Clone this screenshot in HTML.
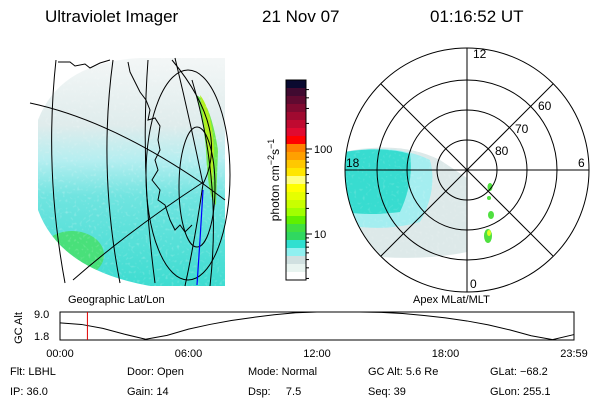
<!DOCTYPE html>
<html><head><meta charset="utf-8"><style>
body{margin:0;background:#fff;}
svg{display:block;font-family:"Liberation Sans",sans-serif;}
</style></head><body>
<svg width="600" height="400" viewBox="0 0 600 400">
<defs>
<clipPath id="mapclip"><path d="M38,120 Q60,62 140,58 L225,58 L225,286 L150,286 Q60,270 38,210 Z"/></clipPath>
<clipPath id="polclip"><circle cx="467" cy="170" r="122"/></clipPath>
<linearGradient id="mapgrad" x1="0" y1="0" x2="0" y2="1">
<stop offset="0" stop-color="#f4f7f7"/><stop offset="0.3" stop-color="#dfecec"/><stop offset="0.45" stop-color="#b4eef0"/><stop offset="0.6" stop-color="#70e4e0"/><stop offset="1" stop-color="#3cdcd0"/></linearGradient>
<filter id="speck"><feTurbulence type="fractalNoise" baseFrequency="0.35" numOctaves="1" seed="3"/><feColorMatrix values="0 0 0 0 1 0 0 0 0 1 0 0 0 0 1 0 0 0 1.6 -0.9"/></filter>
</defs>

<g font-size="17" fill="#000">
<text x="45" y="22">Ultraviolet Imager</text>
<text x="262" y="22">21 Nov 07</text>
<text x="430" y="22">01:16:52 UT</text>
</g>

<g>
<g clip-path="url(#mapclip)">
<rect x="30" y="55" width="200" height="235" fill="url(#mapgrad)"/>
<ellipse cx="72" cy="255" rx="32" ry="24" fill="#48e070" opacity="0.9"/>
<path d="M196,95 Q210,100 218,150 L216,205 Q208,200 206,150 Q202,110 196,95 Z" fill="#70e850"/>
<path d="M200,95 Q212,110 214,150 L212,190 Q208,150 200,95 Z" fill="#b0f020"/>
<rect x="30" y="55" width="200" height="235" filter="url(#speck)" opacity="0.55"/>
</g>
<g fill="none" stroke="#000" stroke-width="1">
<path d="M56,60 Q44,170 65,283"/>
<path d="M113,60 Q98,170 120,283"/>
<path d="M148,60 Q140,170 155,283"/>
<path d="M175,58 Q190,120 203,184 Q195,240 185,286"/>
<path d="M30,103 Q110,120 202,183 L225,200"/>
<path d="M202,183 Q130,230 73,280"/>
<ellipse cx="197" cy="187" rx="18" ry="60"/>
<ellipse cx="188" cy="175" rx="42" ry="105"/>
<path d="M192,80 Q222,180 210,286"/>
<path d="M172,60 Q230,130 203,184"/>
</g>
<path d="M58,62 L70,62 L75,66 L85,64 L90,68 L100,63 L110,60 M128,62 L130,72 L134,80 L140,92 L146,100 L150,110 L148,120 L155,118 L160,126 L158,140 L160,150 L155,160 L158,170 L152,180 L160,190 L158,200 L165,205 L170,220 L175,230 L180,225 L185,232 L192,225" fill="none" stroke="#000" stroke-width="1"/>
<path d="M203,190 L200,240 L197,285" stroke="#0000ff" stroke-width="1.2" fill="none"/>
<text x="68" y="303" font-size="11">Geographic Lat/Lon</text>
</g>

<g id="cbar"></g>

<g>
<g clip-path="url(#polclip)">
<path d="M344,152 Q400,140 440,160 L467,178 L467,252 Q420,262 360,255 L344,245 Z" fill="#dde9e9"/>
<path d="M344,152 Q395,143 430,160 Q438,190 420,222 Q385,232 344,225 Z" fill="#a4eef0"/>
<path d="M344,152 Q385,146 410,154 Q414,182 400,212 Q370,216 344,212 Z" fill="#38dcd0"/>
<path d="M344,150 L470,150 L470,255 L344,255 Z" filter="url(#speck)" opacity="0.4"/>
<g fill="#50e040"><ellipse cx="490" cy="187" rx="2.5" ry="4"/><circle cx="489" cy="198" r="2"/><ellipse cx="491" cy="215" rx="3" ry="4"/><ellipse cx="488" cy="236" rx="4" ry="7"/></g>
<ellipse cx="489" cy="233" rx="2" ry="3" fill="#e0ff20"/>
</g>
<g fill="none" stroke="#000">
<circle cx="467" cy="170" r="30"/><circle cx="467" cy="170" r="60"/><circle cx="467" cy="170" r="90"/><circle cx="467" cy="170" r="122"/>
<line x1="467" y1="48" x2="467" y2="292"/><line x1="345" y1="170" x2="589" y2="170"/>
<line x1="381" y1="84" x2="553" y2="256"/><line x1="553" y1="84" x2="381" y2="256"/>
</g>
<g font-size="12">
<text x="473" y="58">12</text><text x="578" y="167">6</text><text x="470" y="288">0</text><text x="346" y="167">18</text>
<text x="495" y="155">80</text><text x="515" y="133">70</text><text x="538" y="110">60</text>
</g>
<text x="413" y="303" font-size="11">Apex MLat/MLT</text>
</g>

<g id="alt">
<text transform="translate(22,328) rotate(-90)" font-size="11" text-anchor="middle">GC Alt</text>
<text x="34" y="318" font-size="11">9.0</text>
<text x="34" y="340" font-size="11">1.8</text>
</g>

<g font-size="11">
<text x="10" y="375">Flt: LBHL</text><text x="127" y="375">Door: Open</text><text x="248" y="375">Mode: Normal</text><text x="368" y="375">GC Alt: 5.6 Re</text><text x="490" y="375">GLat: −68.2</text>
<text x="10" y="395">IP: 36.0</text><text x="127" y="395">Gain: 14</text><text x="248" y="395">Dsp:&#160;&#160;&#160;&#160;&#160;7.5</text><text x="368" y="395">Seq: 39</text><text x="490" y="395">GLon: 255.1</text>
</g>
</svg>
<script>
const cbColors=["#0a0a30","#400a30","#600a30","#800a30","#a00a30","#c00a30","#e00a30","#ff0000","#ff8000","#ffa000","#ffc800","#ffe600","#ffff80","#ffff00","#e6ff00","#c8ff00","#a0ff00","#60f000","#40e040","#30d860","#30e0d0","#90f0f0","#d0e0e0","#e8f4f0","#ffffff"];
const cbTickValues=[10,100];
const altHours=[0,1,2,3,4,5,6,7,8,9,10,11,12,13,14,15,16,17,18,19,20,21,22,23,24];
const altValues=[6.2,5.8,4.8,3.3,2.0,3.0,4.6,5.8,6.8,7.6,8.3,8.8,9.0,9.1,9.1,8.9,8.6,8.1,7.5,6.7,5.7,4.4,2.9,1.9,3.2];
const timeTickLabels=["00:00","06:00","12:00","18:00","23:59"];
const timeTickHours=[0,6,12,18,24];
const currentHour=1.28;
const NS="http://www.w3.org/2000/svg";
function mk(t,a,p){const e=document.createElementNS(NS,t);for(const k in a)e.setAttribute(k,a[k]);p.appendChild(e);return e;}
const cb=document.getElementById('cbar');
const cbX=286,cbY=80,cbW=20,cbH=200,bh=cbH/cbColors.length;
cbColors.forEach((c,i)=>{const r=mk('rect',{x:cbX,y:cbY+i*bh,width:cbW,height:bh+0.5,fill:c},cb);

});
mk('rect',{x:cbX,y:cbY,width:cbW,height:cbH,fill:'none',stroke:'#000'},cb);
function cbYof(v){return 234-(Math.log10(v)-1)*85;}
for(let v=3;v<=500;v++){const m=Math.pow(10,Math.floor(Math.log10(v)));if(v%m!==0)continue;const y=cbYof(v);if(y<cbY||y>cbY+cbH)continue;
mk('line',{x1:cbX+cbW,x2:cbX+cbW+3,y1:y,y2:y,stroke:'#000'},cb);}
cbTickValues.forEach(v=>{const y=cbYof(v);mk('line',{x1:cbX+cbW,x2:cbX+cbW+6,y1:y,y2:y,stroke:'#000'},cb);
const t=mk('text',{x:cbX+cbW+8,y:y+4,'font-size':11},cb);t.textContent=v;

});
const cl=mk('text',{transform:'translate(279,180) rotate(-90)','font-size':12,'text-anchor':'middle'},cb);
cl.innerHTML='photon cm<tspan dy="-5" font-size="9">−2</tspan><tspan dy="5">s</tspan><tspan dy="-5" font-size="9">−1</tspan>';


const g=document.getElementById('alt');
const x0=60,x1=574,yT=312,yB=340;
const xs=h=>x0+h/24*(x1-x0), ys=v=>yB-(v-1.8)/(9.0-1.8)*(yB-yT);
mk('rect',{x:x0,y:yT,width:x1-x0,height:yB-yT,fill:'none',stroke:'#000'},g);
const p=mk('path',{d:altHours.map((h,i)=>(i?'L':'M')+xs(h)+','+Math.max(yT,Math.min(yB,ys(altValues[i])))).join(' '),fill:'none',stroke:'#000'},g);


const cur=mk('line',{x1:xs(currentHour),x2:xs(currentHour),y1:yT,y2:yB,stroke:'#e00000'},g);


timeTickHours.forEach((h,i)=>{const t=mk('text',{x:xs(h),y:357,'font-size':11,'text-anchor':'middle'},g);t.textContent=timeTickLabels[i];

});
</script>
</body></html>
